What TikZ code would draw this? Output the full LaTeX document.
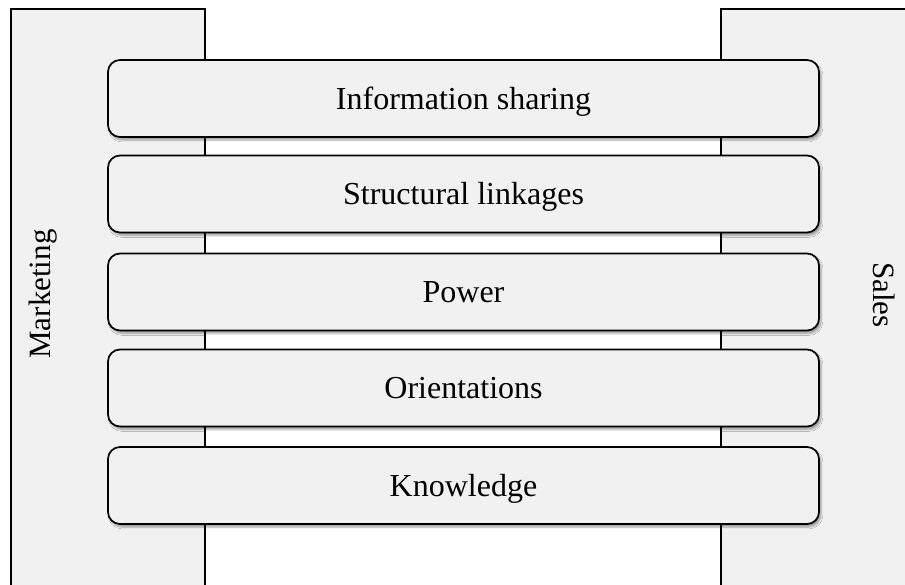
\documentclass[tikz,border=0pt]{standalone}
\usepackage{fontspec}
\setmainfont{Liberation Serif}
\usetikzlibrary{shadows.blur}
\definecolor{boxfill}{HTML}{F1F1F1}
\tikzset{
  side/.style={draw=black, line width=1.7pt, fill=boxfill, rectangle, inner sep=0pt, outer sep=0pt},
  factor/.style={draw=black, line width=1.7pt, fill=boxfill, rectangle, rounded corners=12pt,
    minimum width=711pt, minimum height=77pt, inner sep=0pt, outer sep=0pt,
    blur shadow={shadow xshift=2pt, shadow yshift=-3pt, shadow blur steps=6, shadow opacity=35},
    font=\fontsize{32}{38}\selectfont, text height=21.5pt, text depth=0pt},
  sidelabel/.style={font=\fontsize{31}{37}\selectfont, inner sep=0pt}
}
\begin{document}
\begin{tikzpicture}[x=1pt,y=1pt]
\useasboundingbox (0,0) rectangle (905,-584);
\begin{scope}
\clip (0,0) rectangle (905,-584);
\node[side, minimum width=194pt, minimum height=600pt, anchor=north west] (mkt) at (11,-9) {};
\node[side, minimum width=200pt, minimum height=600pt, anchor=north west] (sal) at (721,-9) {};
\end{scope}
\node[sidelabel, rotate=90, anchor=base] (mktl) at (50,-294) {Marketing};
\node[sidelabel, rotate=-90, anchor=center] (sall) at (884,-295) {Sales};
\node[factor] (f1) at (463.5,-98.5) {Information sharing};
\node[factor] (f2) at (463.5,-194) {Structural linkages};
\node[factor] (f3) at (463.5,-292) {Power};
\node[factor] (f4) at (463.5,-388) {Orientations};
\node[factor] (f5) at (463.5,-485.5) {Knowledge};
\end{tikzpicture}
\end{document}
